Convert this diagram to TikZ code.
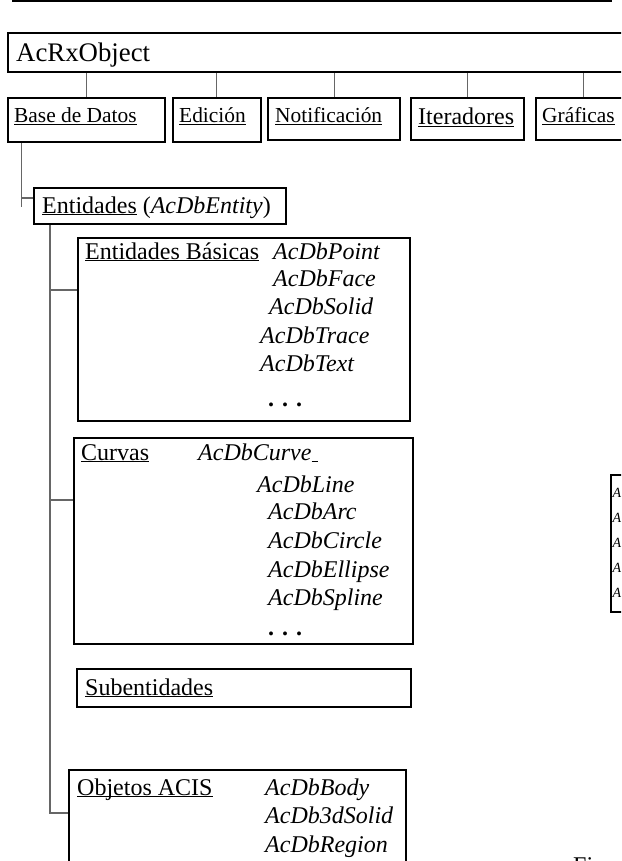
\documentclass[tikz,border=0pt]{standalone}
\usepackage{fontspec}
\setmainfont{Liberation Serif}
\newcommand\ulx[1]{\leavevmode\setbox0\hbox{#1}\rlap{\rule[-2.2pt]{\wd0}{1.1pt}}\box0\relax}
\tikzset{
  boxnode/.style={draw=black, line width=2.2pt, inner sep=0pt, anchor=north west, rectangle},
  conn/.style={draw=black!60, line width=1.2pt},
  txt/.style={anchor=base west, inner sep=0pt, font=\fontsize{24}{28}\selectfont},
  itx/.style={anchor=base west, inner sep=0pt, font=\fontsize{24}{28}\selectfont\itshape},
  subtxt/.style={anchor=base west, inner sep=0pt, font=\fontsize{21.4}{25}\selectfont},
  edgetxt/.style={anchor=base west, inner sep=0pt, font=\fontsize{14}{16}\selectfont\itshape},
}
\begin{document}
\begin{tikzpicture}[x=1pt,y=-1pt]
\useasboundingbox (0,0) rectangle (621,861);
\clip (0,0) rectangle (621,861);
% header rule
\coordinate (h1) at (12,1.5);
\coordinate (h2) at (612,1.5);
\draw[line width=2pt] (h1) -- (h2);
% boxes
\node[boxnode, minimum width=640pt, minimum height=39pt] (acrx) at (7,32) {};
\node[boxnode, minimum width=157pt, minimum height=44pt] (bd) at (7,97) {};
\node[boxnode, minimum width=88.5pt, minimum height=44pt] (ed) at (171.5,97) {};
\node[boxnode, minimum width=132pt, minimum height=42pt] (nt) at (267,97) {};
\node[boxnode, minimum width=113pt, minimum height=42pt] (it) at (410,97) {};
\node[boxnode, minimum width=95pt, minimum height=42pt] (gr) at (535,97) {};
\node[boxnode, minimum width=252pt, minimum height=36pt] (ent) at (33,187) {};
\node[boxnode, minimum width=332pt, minimum height=183pt] (eb) at (77,237) {};
\node[boxnode, minimum width=339pt, minimum height=206pt] (cu) at (73,437) {};
\node[boxnode, minimum width=334pt, minimum height=38pt] (sub) at (76,668) {};
\node[boxnode, minimum width=337pt, minimum height=120pt] (oa) at (68,769) {};
\node[boxnode, minimum width=40pt, minimum height=137pt] (rb) at (610,474) {};
% connectors from AcRxObject
\foreach \n in {bd,ed,nt,it,gr}
  \draw[conn] (\n.north) -- (\n.north |- acrx.south);
% Base de Datos -> Entidades
\coordinate (c1) at (21.7,207);
\coordinate (t1) at (21.7,198);
\draw[conn] (bd.south -| c1) -- (c1);
\draw[conn] (t1) -- (t1 -| ent.west);
% Entidades -> children
\coordinate (v2) at (50,813);
\coordinate (t2) at (50,290);
\coordinate (t3) at (50,500);
\draw[conn] (ent.south -| v2) -- (v2) -- (oa.west |- v2);
\draw[conn] (t2) -- (eb.west |- t2);
\draw[conn] (t3) -- (cu.west |- t3);
% texts
\node[anchor=base west, inner sep=0pt, font=\fontsize{26.8}{30}\selectfont] (tacrx) at (16,62) {AcRxObject};
\node[subtxt] (tbd) at (14,123) {\ulx{Base de Datos}};
\node[subtxt] (ted) at (179,123) {\ulx{Edición}};
\node[subtxt] (tnt) at (275,122.5) {\ulx{Notificación}};
\node[txt] (tit) at (418,125) {\ulx{Iteradores}};
\node[subtxt] (tgr) at (542,123) {\ulx{Gráficas}};
\node[txt] (tent) at (42,213) {\ulx{Entidades}\ (\textit{AcDbEntity})};
% Entidades Basicas
\node[txt] (teb) at (85,259) {\ulx{Entidades Básicas}};
\node[itx] (eb1) at (273,259) {AcDbPoint};
\node[itx] (eb2) at (273,286) {AcDbFace};
\node[itx] (eb3) at (269,314) {AcDbSolid};
\node[itx] (eb4) at (260,343) {AcDbTrace};
\node[itx] (eb5) at (260,371) {AcDbText};
\node[txt] (eb6) at (268,406) {\textbf{. . .}};
% Curvas
\node[txt] (tcu) at (81,460) {\ulx{Curvas}};
\node[itx] (cu1) at (198,460) {AcDbCurve\ulx{\hspace*{6pt}}};
\node[itx] (cu2) at (257,492) {AcDbLine};
\node[itx] (cu3) at (268,519) {AcDbArc};
\node[itx] (cu4) at (268,548) {AcDbCircle};
\node[itx] (cu5) at (268,577) {AcDbEllipse};
\node[itx] (cu6) at (268,605) {AcDbSpline};
\node[txt] (cu7) at (268,635) {\textbf{. . .}};
% Subentidades
\node[txt] (tsub) at (85,695) {\ulx{Subentidades}};
% Objetos ACIS
\node[txt] (toa) at (77,795) {\ulx{Objetos ACIS}};
\node[itx] (oa1) at (265,795) {AcDbBody};
\node[itx] (oa2) at (265,823) {AcDb3dSolid};
\node[itx] (oa3) at (265,852) {AcDbRegion};
% right partial box
\node[edgetxt] (rb1) at (612.5,497) {A};
\node[edgetxt] (rb2) at (612.5,522) {A};
\node[edgetxt] (rb3) at (612.5,547) {A};
\node[edgetxt] (rb4) at (612.5,572) {A};
\node[edgetxt] (rb5) at (612.5,597) {A};
% caption fragment
\node[txt] (fig) at (573,873) {Fi};
\end{tikzpicture}
\end{document}
